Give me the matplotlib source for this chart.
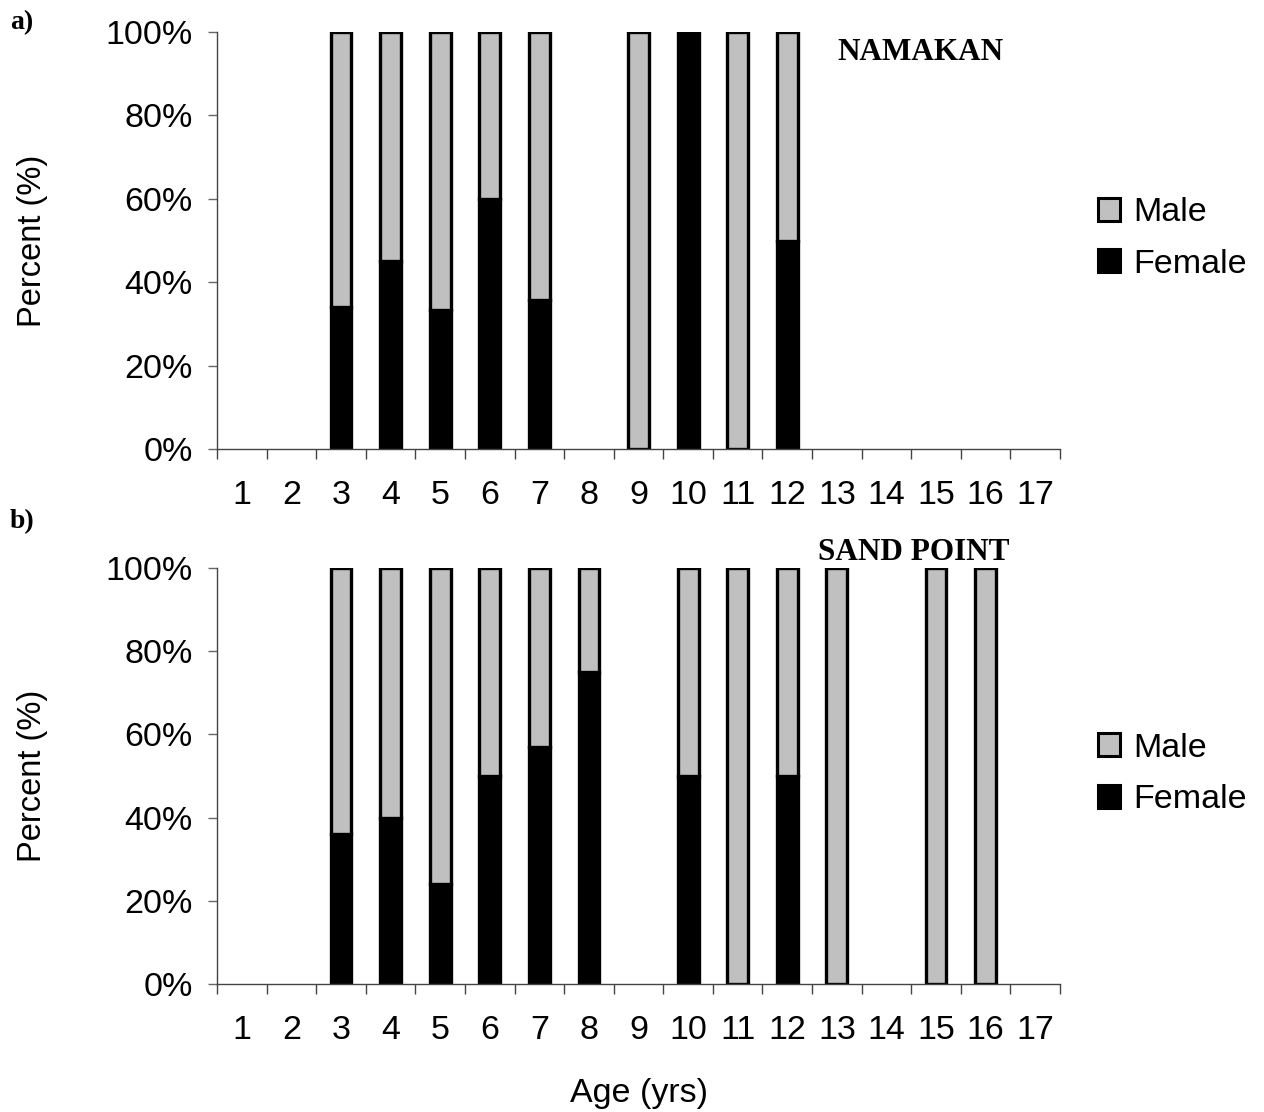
import numpy as np
import matplotlib
matplotlib.use("Agg")
import matplotlib.pyplot as plt
from matplotlib.patches import Patch
from matplotlib.ticker import MultipleLocator, FixedLocator

plt.rcParams["font.family"] = "Liberation Sans"

# Ages (yrs) on the x axis
ages = list(range(1, 18))
age_labels = [str(a) for a in ages]

# Fraction female per age; None where no fish were aged
namakan_female = [None, None, 0.34, 0.45, 0.333, 0.60, 0.357, None, 0.0, 1.0, 0.0, 0.50,
                  None, None, None, None, None]
sandpoint_female = [None, None, 0.36, 0.40, 0.24, 0.50, 0.57, 0.75, None, 0.50, 0.0, 0.50,
                    0.0, None, 0.0, 0.0, None]

panels = [("NAMAKAN", namakan_female, "a)"), ("SAND POINT", sandpoint_female, "b)")]

male_color = "#c0c0c0"
female_color = "black"
fs = 24.5

fig = plt.figure(figsize=(12.64, 11.12), dpi=100)
axes = [fig.add_axes([0.1717, 0.5962, 0.6669, 0.375]),
        fig.add_axes([0.1717, 0.1151, 0.6669, 0.3741])]

title_pos = [(0.835, 0.95), (0.827, 1.038)]
letter_y = [0.980, 0.531]

for ax, (site, female, letter), tpos, ly in zip(axes, panels, title_pos, letter_y):
    x = np.array([a for a, f in zip(ages, female) if f is not None])
    f = np.array([v for v in female if v is not None]) * 100
    m = 100 - f
    ax.bar(x, f, width=0.42, color=female_color, edgecolor="black", linewidth=2.4)
    ax.bar(x, m, bottom=f, width=0.42, color=male_color, edgecolor="black", linewidth=2.4)

    ax.set_xlim(0.5, 17.5)
    ax.set_ylim(0, 100)
    ax.set_yticks([0, 20, 40, 60, 80, 100])
    ax.set_yticklabels([f"{v}%" for v in [0, 20, 40, 60, 80, 100]])
    ax.xaxis.set_major_locator(FixedLocator(ages))
    ax.set_xticklabels(age_labels)
    ax.xaxis.set_minor_locator(MultipleLocator(1, offset=0.5))
    ax.tick_params(axis="x", which="major", length=0, pad=22, labelsize=fs)
    ax.tick_params(axis="x", which="minor", length=7.5, width=1, color="#444444")
    ax.tick_params(axis="y", length=6.5, width=1, color="#666666", pad=11, labelsize=fs)

    for s in ["top", "right"]:
        ax.spines[s].set_visible(False)
    for s in ["left", "bottom"]:
        ax.spines[s].set_color("#444444")
        ax.spines[s].set_linewidth(1)

    ax.set_ylabel("Percent (%)", fontsize=23.5)
    ax.yaxis.set_label_coords(-0.2, 0.5)

    ax.text(tpos[0], tpos[1], site, transform=ax.transAxes, ha="center", va="center",
            family="Liberation Serif", fontweight="bold", fontsize=22.5)
    fig.text(0.008, ly, letter, ha="left", va="center",
             family="Liberation Serif", fontweight="bold", fontsize=20)

    handles = [Patch(facecolor=male_color, edgecolor="black", linewidth=2.2, label="Male"),
               Patch(facecolor=female_color, edgecolor="black", linewidth=2.2, label="Female")]
    ax.legend(handles=handles, loc="center left", bbox_to_anchor=(1.045, 0.505),
              frameon=False, fontsize=fs, handlelength=0.65, handleheight=0.65,
              handletextpad=0.4, labelspacing=0.6, borderpad=0, borderaxespad=0)

axes[1].set_xlabel("Age (yrs)", fontsize=fs)
axes[1].xaxis.set_label_coords(0.5, -0.225)

fig.savefig("out.png", dpi=100)
